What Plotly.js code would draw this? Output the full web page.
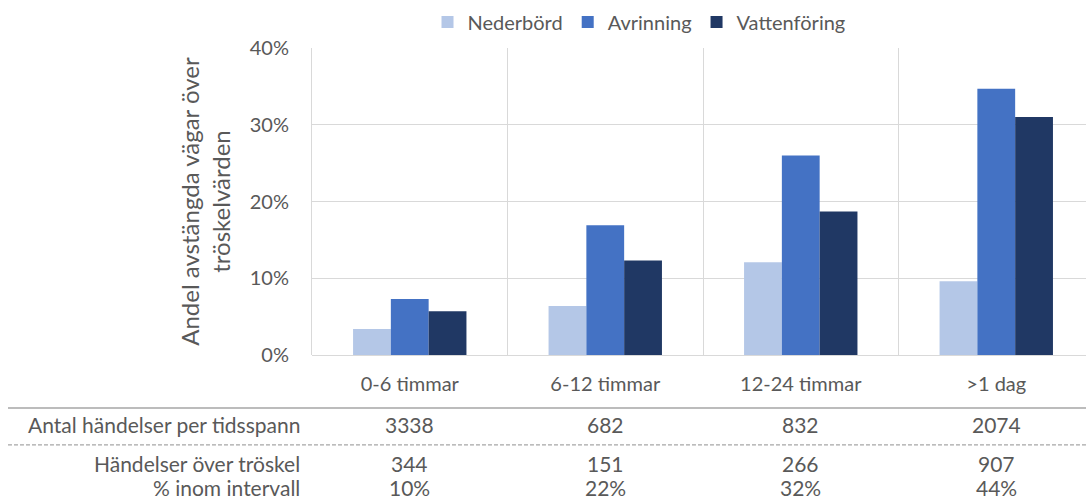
<!DOCTYPE html>
<html>
<head>
<meta charset="utf-8">
<script src="https://cdn.plot.ly/plotly-3.0.1.min.js"></script>
<style>html,body{margin:0;padding:0;background:#fff;overflow:hidden}</style>
</head>
<body>
<div id="chart" style="width:1086px;height:499px"></div>
<script>
const categories = ["0-6 timmar", "6-12 timmar", "12-24 timmar", ">1 dag"];
const nederbord = [0.034, 0.064, 0.121, 0.096];
const avrinning = [0.073, 0.169, 0.260, 0.347];
const vattenforing = [0.057, 0.123, 0.187, 0.310];
const rowLabels = ["Antal händelser per tidsspann", "Händelser över tröskel", "% inom intervall"];
const antalHandelser = ["3338", "682", "832", "2074"];
const overTroskel = ["344", "151", "266", "907"];
const procentIntervall = ["10%", "22%", "32%", "44%"];

const FONT = "Lato, 'Open Sans', sans-serif";
const GREY = "#595959";
const FS = 20;
const TFS = 21;

const traces = [
  {type: "bar", name: "Nederbörd", x: categories, y: nederbord, marker: {color: "#B4C7E7"}},
  {type: "bar", name: "Avrinning", x: categories, y: avrinning, marker: {color: "#4472C4"}},
  {type: "bar", name: "Vattenföring", x: categories, y: vattenforing, marker: {color: "#203864"}}
];

const rowsY = [-0.228, -0.352, -0.433];
const rowData = [antalHandelser, overTroskel, procentIntervall];
const annotations = [];
rowLabels.forEach((lab, i) => {
  annotations.push({xref: "paper", yref: "paper", x: -0.0129, y: rowsY[i], xanchor: "right", yanchor: "middle",
    text: lab, showarrow: false, font: {family: FONT, size: TFS, color: GREY}});
  rowData[i].forEach((v, j) => {
    annotations.push({xref: "x", yref: "paper", x: categories[j], y: rowsY[i], xanchor: "center", yanchor: "middle",
      text: v, showarrow: false, font: {family: FONT, size: TFS, color: GREY}});
  });
});

const layout = {
  width: 1086, height: 499,
  margin: {l: 312, r: 0, t: 48, b: 144},
  paper_bgcolor: "#fff", plot_bgcolor: "#fff",
  font: {family: FONT, color: GREY, size: FS},
  barmode: "group", bargap: 0.42, bargroupgap: 0,
  showlegend: true,
  legend: {orientation: "h", x: 0.4225, xanchor: "center", y: 1.085, yanchor: "middle",
    font: {family: FONT, size: FS, color: GREY}, itemwidth: 30, traceorder: "normal"},
  xaxis: {type: "category", range: [-0.5, 3.459], tickson: "boundaries", showgrid: true,
    gridcolor: "#D9D9D9", gridwidth: 1, ticks: "", showline: false, zeroline: false,
    tickfont: {family: FONT, size: FS, color: GREY}, ticklabelstandoff: 15, fixedrange: true},
  yaxis: {range: [0, 0.4], dtick: 0.1, tickformat: ".0%", showgrid: true, gridcolor: "#D9D9D9",
    zeroline: true, zerolinecolor: "#D9D9D9", showline: true, linecolor: "#D9D9D9", ticks: "",
    tickfont: {family: FONT, size: FS, color: GREY}, ticklabelstandoff: 18,
    title: {text: "Andel avstängda vägar över<br>tröskelvärden", font: {family: FONT, size: 24, color: GREY}, standoff: 12},
    fixedrange: true},
  shapes: [
    {type: "line", xref: "paper", yref: "paper", x0: -0.3928, x1: 1, y0: -0.1726, y1: -0.1726,
      line: {color: "#A6A6A6", width: 1.5}},
    {type: "line", xref: "paper", yref: "paper", x0: -0.3928, x1: 1, y0: -0.293, y1: -0.293,
      line: {color: "#A6A6A6", width: 1.2, dash: "4px,2px"}}
  ],
  annotations: annotations
};

Plotly.newPlot("chart", traces, layout, {displayModeBar: false, staticPlot: true});
</script>
</body>
</html>
